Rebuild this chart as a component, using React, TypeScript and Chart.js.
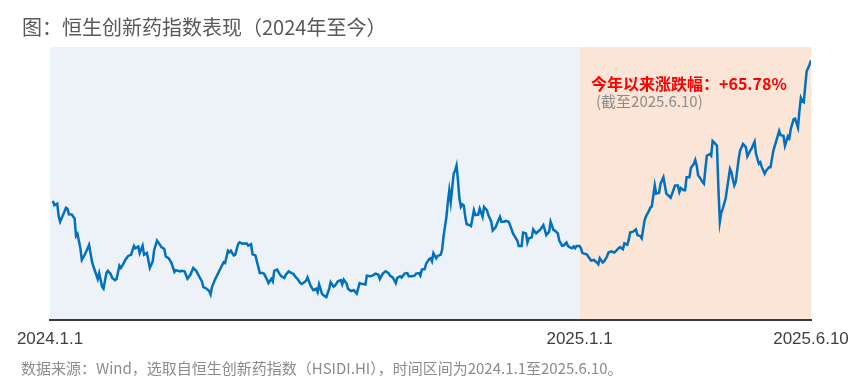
import React, { useEffect, useRef } from "react";
import { Chart, registerables } from "chart.js";

Chart.register(...registerables);

// Days since 2024-01-01 (calendar days) for each observation
const dayOffsets = [
  2, 3, 5, 6, 7, 9, 11, 12, 13, 15, 17, 18, 19, 21, 22, 24, 26, 27, 29, 30,
  32, 33, 34, 36, 37, 39, 40, 42, 43, 45, 46, 48, 49, 51, 52, 54, 56, 58, 59, 61,
  62, 64, 65, 67, 69, 71, 72, 74, 76, 77, 79, 80, 82, 84, 86, 87, 90,
  91, 93, 95, 97, 99, 101, 103, 105, 106, 108, 110, 111, 112, 114, 116, 118, 120, 121,
  123, 124, 125, 127, 128, 130, 131, 133, 135, 136, 137, 139, 140, 142, 143, 145, 147, 148,
  150, 151, 153, 154, 155, 157, 159, 160, 162, 163, 165, 167, 168, 170, 171, 173, 174, 176,
  177, 178, 180,
  181, 182, 184, 185, 186, 188, 189, 191, 193, 194, 196, 197, 199, 201, 202, 203, 205, 206,
  208, 210, 212, 214, 215, 218, 219, 221, 223, 225, 227, 228, 230, 232, 234, 235, 237, 239,
  240, 242, 243, 245, 247, 248, 250, 252, 253, 255, 256, 257, 259, 260, 262, 263, 264, 265,
  267, 268, 270,
  271, 272, 274, 275, 276, 277, 279, 280, 281, 282, 283, 284, 285, 286, 287, 288, 290, 291,
  293, 294, 296, 297, 299, 300, 302, 303, 305, 306, 308, 309, 311, 312, 314, 315, 317, 318,
  320, 321, 323, 324, 326, 327, 329, 330, 331, 333, 334, 336, 337, 339, 341, 342, 343, 345,
  346, 348, 349, 351, 352, 354, 355, 357, 358, 359,
  361, 362, 363, 364, 366, 367, 368, 371, 372, 374, 376, 378, 379, 380, 382, 383, 385, 386,
  388, 390, 391, 393, 394, 396, 397, 399, 400, 401, 403, 405, 406, 408, 409, 411, 412, 414,
  415, 416, 418, 419, 421, 422, 424, 425, 426, 428, 429, 431, 432, 434, 435, 436, 438, 439,
  440, 442, 443, 445, 446, 447, 448, 449,
  451, 452, 453, 454, 456, 457, 458, 459, 461, 462, 463, 464, 465, 467, 468, 470, 471, 472,
  473, 474, 476, 477, 479, 481, 482, 484, 485, 487, 488, 490, 491, 492, 494, 495, 497, 498,
  499, 500, 502, 504, 505, 507, 508, 510, 511, 512, 514, 515, 517, 518, 519, 520, 521, 522,
  523, 525, 526,
];

// Index level, rebased so that 2025-01-01 = 100
const indexValues = [
  116.6, 115.1, 115.6, 111.2, 109.3, 111.6, 114.2, 113.9, 111.9, 111.8, 110.4, 104.3, 105.0, 100.0, 95.9, 97.7, 100.0, 101.2, 95.4, 93.6,
  90.7, 89.2, 91.3, 86.5, 85.8, 91.3, 92.1, 90.9, 89.6, 88.8, 89.2, 93.9, 93.1, 94.8, 95.9, 97.3, 97.7, 100.8, 100.0, 100.6,
  98.3, 100.9, 97.7, 98.3, 93.1, 95.4, 99.4, 102.7, 101.2, 100.4, 99.7, 97.1, 96.5, 94.8, 91.7, 92.3, 91.9,
  92.1, 91.9, 89.3, 90.7, 93.1, 92.1, 90.2, 88.4, 86.4, 85.9, 85.0, 83.8, 86.4, 89.0, 91.0, 93.1, 95.1, 94.8,
  99.1, 98.6, 99.1, 97.5, 97.7, 101.4, 102.1, 101.6, 101.7, 101.7, 100.9, 101.4, 97.9, 97.5, 95.4, 91.3, 91.3, 91.0,
  89.0, 87.8, 89.3, 88.4, 92.1, 92.5, 90.7, 90.2, 89.6, 90.7, 91.9, 91.3, 91.1, 89.8, 89.3, 87.8, 87.5, 88.2,
  88.6, 89.8, 87.0,
  86.1, 85.3, 85.8, 84.6, 87.3, 84.0, 83.5, 82.9, 85.8, 88.1, 86.5, 86.9, 88.4, 88.8, 87.3, 89.0, 87.6, 85.8,
  85.0, 85.3, 84.1, 87.8, 87.6, 87.3, 90.4, 90.2, 90.4, 91.1, 90.7, 89.2, 91.1, 91.9, 91.3, 90.4, 89.7, 87.8,
  89.6, 90.2, 89.7, 91.1, 91.3, 90.2, 90.2, 90.4, 91.1, 91.3, 90.4, 92.5, 92.7, 94.6, 96.2, 96.5, 95.4, 98.3,
  96.5, 97.3, 97.7,
  99.4, 104.1, 111.0, 116.2, 120.3, 116.2, 126.1, 127.2, 129.0, 123.7, 117.4, 114.5, 115.4, 115.0, 111.0, 108.4, 108.1, 107.8,
  113.3, 111.6, 111.8, 113.9, 111.0, 114.5, 113.3, 111.6, 109.3, 106.2, 107.3, 108.7, 111.0, 109.3, 109.3, 109.6, 109.3, 108.1,
  105.2, 104.3, 102.7, 100.8, 100.8, 105.5, 105.2, 102.0, 103.5, 103.8, 106.6, 105.2, 105.7, 106.6, 108.1, 106.4, 104.6, 105.8,
  109.3, 106.4, 106.2, 105.2, 102.7, 100.8, 100.9, 102.0, 100.8, 100.4,
  100.0, 100.6, 100.0, 100.8, 100.8, 100.0, 98.3, 97.9, 97.1, 95.7, 95.9, 95.0, 94.4, 96.5, 95.0, 95.4, 97.1, 98.5,
  98.9, 98.5, 98.9, 100.0, 100.4, 99.7, 101.7, 101.2, 102.9, 105.5, 105.8, 106.6, 104.6, 104.3, 103.5, 109.9, 111.2, 113.1,
  114.3, 114.7, 122.0, 119.1, 119.4, 122.6, 124.9, 122.0, 119.1, 118.2, 117.7, 120.5, 122.0, 122.0, 119.7, 121.1, 120.3, 120.3,
  124.9, 124.9, 128.2, 129.5, 130.9, 129.0, 125.5, 124.9,
  123.2, 122.6, 127.8, 132.4, 133.0, 132.4, 137.6, 137.1, 135.9, 120.9, 109.3, 112.5, 113.9, 117.4, 120.9, 127.8, 126.7, 124.1,
  122.0, 123.2, 131.3, 134.2, 136.5, 135.4, 132.2, 134.2, 135.0, 137.3, 133.0, 129.6, 130.1, 128.4, 126.1, 127.2, 128.4, 128.4,
  131.3, 134.2, 137.6, 141.1, 139.6, 139.4, 135.9, 139.2, 138.5, 141.7, 145.2, 145.4, 142.3, 148.1, 152.7, 151.6, 151.2, 156.8,
  162.0, 164.3, 165.8,
];

const tickDays = [0, 366, 526];
const tickLabels = ["2024.1.1", "2025.1.1", "2025.6.10"];
const splitDay = 366;

const titleText = "图：恒生创新药指数表现（2024年至今）";
const noteLine1 = "今年以来涨跌幅：+65.78%";
const noteLine2 = "(截至2025.6.10)";
const sourceText = "数据来源：Wind，选取自恒生创新药指数（HSIDI.HI），时间区间为2024.1.1至2025.6.10。";

const CJK = "'Noto Sans CJK SC', 'Noto Sans', sans-serif";
const LATIN = "'Liberation Sans', Arial, sans-serif";

const bgPlugin = {
  id: "bgBands",
  beforeDraw(chart: any) {
    const { ctx, chartArea, scales } = chart;
    if (!chartArea) return;
    const xs = scales.x.getPixelForValue(splitDay);
    ctx.save();
    ctx.fillStyle = "#EDF2F9";
    ctx.fillRect(chartArea.left, chartArea.top, xs - chartArea.left, chartArea.bottom - chartArea.top);
    ctx.fillStyle = "#FBE5D7";
    ctx.fillRect(xs, chartArea.top, chartArea.right - xs, chartArea.bottom - chartArea.top);
    ctx.restore();
  },
};

export default function App() {
  const ref = useRef<HTMLCanvasElement>(null);

  useEffect(() => {
    if (!ref.current) return;
    const points = dayOffsets.map((d, i) => ({ x: d, y: indexValues[i] }));
    const chart = new Chart(ref.current, {
      type: "line",
      data: {
        datasets: [
          {
            data: points,
            borderColor: "#0070C0",
            borderWidth: 2.5,
            pointRadius: 0,
            tension: 0,
            fill: false,
          },
        ],
      },
      options: {
        animation: false,
        responsive: false,
        maintainAspectRatio: false,
        layout: { padding: { left: 50, right: 52, top: 47, bottom: 26 } },
        plugins: {
          legend: { display: false },
          tooltip: { enabled: false },
        },
        scales: {
          x: {
            type: "linear",
            min: 0,
            max: 526,
            grid: { display: false, drawTicks: false },
            border: { display: true, color: "#3A3A3A", width: 2 },
            afterBuildTicks: (scale: any) => {
              scale.ticks = tickDays.map((v) => ({ value: v }));
            },
            ticks: {
              autoSkip: false,
              maxRotation: 0,
              padding: 10,
              color: "#404040",
              font: { family: LATIN, size: 17 },
              callback: (v: any) => {
                const i = tickDays.indexOf(Number(v));
                return i >= 0 ? tickLabels[i] : "";
              },
            },
          },
          y: {
            display: false,
            min: 75,
            max: 170.5,
          },
        },
      },
      plugins: [bgPlugin],
    });
    return () => chart.destroy();
  }, []);

  return (
    <div style={{ position: "fixed", left: 0, top: 0, width: 863, height: 386, background: "#ffffff", overflow: "hidden" }}>
      <canvas ref={ref} width={863} height={386} style={{ position: "absolute", left: 0, top: 0, width: 863, height: 386 }} />
      <div style={{ position: "absolute", left: 22, top: 17, fontFamily: CJK, fontSize: 20, lineHeight: "20px", color: "#595959", whiteSpace: "nowrap" }}>
        {titleText}
      </div>
      <div style={{ position: "absolute", left: 591, top: 75, fontFamily: CJK, fontSize: 16, lineHeight: "16px", fontWeight: 700, color: "#FF0000", whiteSpace: "nowrap" }}>
        {noteLine1}
      </div>
      <div style={{ position: "absolute", left: 596, top: 93, fontFamily: CJK, fontSize: 15, lineHeight: "15px", color: "#8C8C8C", whiteSpace: "nowrap" }}>
        {noteLine2}
      </div>
      <div style={{ position: "absolute", left: 21, top: 360, fontFamily: CJK, fontSize: 15, lineHeight: "15px", color: "#8C8C8C", whiteSpace: "nowrap" }}>
        {sourceText}
      </div>
    </div>
  );
}
